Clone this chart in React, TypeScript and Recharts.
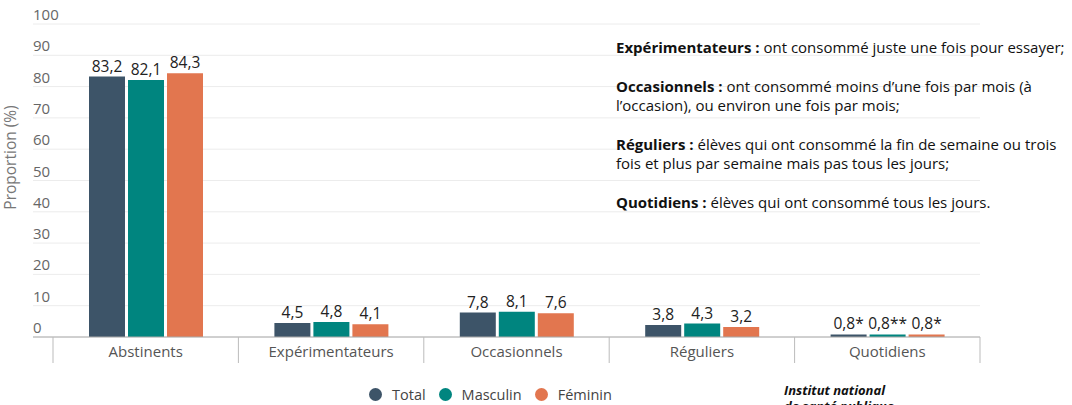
import React from "react";
import { BarChart, Bar, XAxis, YAxis, CartesianGrid, LabelList } from "recharts";

const categories = ["Abstinents", "Expérimentateurs", "Occasionnels", "Réguliers", "Quotidiens"];
const totalValues = [83.2, 4.5, 7.8, 3.8, 0.8];
const masculinValues = [82.1, 4.8, 8.1, 4.3, 0.8];
const femininValues = [84.3, 4.1, 7.6, 3.2, 0.8];
const totalNotes = ["", "", "", "", "*"];
const masculinNotes = ["", "", "", "", "**"];
const femininNotes = ["", "", "", "", "*"];
const yTicks = [0, 10, 20, 30, 40, 50, 60, 70, 80, 90, 100];

const COLORS = { total: "#3d5468", masculin: "#00857f", feminin: "#e2764f" };
const FONT = "'Open Sans', 'Noto Sans', sans-serif";

const data = categories.map((name, i) => ({
  name,
  total: totalValues[i],
  masculin: masculinValues[i],
  feminin: femininValues[i],
  totalLabel: totalValues[i].toString().replace(".", ",") + totalNotes[i],
  masculinLabel: masculinValues[i].toString().replace(".", ",") + masculinNotes[i],
  femininLabel: femininValues[i].toString().replace(".", ",") + femininNotes[i],
}));

const W = 1072;
const H = 405;
const margin = { top: 24, right: 92, left: 0, bottom: 38 };
const Y_AXIS_W = 33;
const PAD_LEFT = 20;
const band = (W - margin.left - margin.right - Y_AXIS_W - PAD_LEFT) / categories.length;

const YTick = (props: any) => {
  const { y, payload } = props;
  return (
    <text x={33} y={y - 9} dy={5} textAnchor="start" fontSize={15} fill="#666" fontFamily={FONT}>
      {payload.value}
    </text>
  );
};

const XTick = (props: any) => {
  const { x, y, payload, index } = props;
  const last = index === categories.length - 1;
  return (
    <g>
      <line x1={x - band / 2} x2={x - band / 2} y1={y} y2={y + 26} stroke="#bbb" />
      {last && <line x1={x + band / 2} x2={x + band / 2} y1={y} y2={y + 26} stroke="#bbb" />}
      <text x={x} y={y + 15} dy={5} textAnchor="middle" fontSize={15} fill="#555" fontFamily={FONT}>
        {payload.value}
      </text>
    </g>
  );
};

const labelStyle = { fontSize: 15.5, fill: "#222", fontFamily: FONT };

const legendItems = [
  { label: "Total", color: COLORS.total },
  { label: "Masculin", color: COLORS.masculin },
  { label: "Féminin", color: COLORS.feminin },
];

export default function App() {
  return (
    <div style={{ position: "absolute", left: 0, top: 0, width: W, height: H, background: "#fff", fontFamily: FONT, overflow: "hidden" }}>
      <BarChart width={W} height={H} data={data} margin={margin} barSize={36} barGap={3}>
        <CartesianGrid vertical={false} stroke="#ececec" />
        <XAxis
          dataKey="name"
          padding={{ left: PAD_LEFT, right: 0 }}
          tickLine={false}
          tickSize={0}
          tickMargin={0}
          height={30}
          axisLine={{ stroke: "#aaa" }}
          tick={<XTick />}
          interval={0}
        />
        <YAxis
          width={Y_AXIS_W}
          domain={[0, 100]}
          ticks={yTicks}
          axisLine={false}
          tickLine={false}
          tick={<YTick />}
          label={{
            value: "Proportion (%)",
            angle: -90,
            position: "insideLeft",
            offset: 10,
            dy: -23,
            style: { fontSize: 15.5, fill: "#777", fontFamily: FONT, textAnchor: "middle" },
          }}
        />
        <Bar dataKey="total" fill={COLORS.total} isAnimationActive={false}>
          <LabelList dataKey="totalLabel" position="top" style={labelStyle} />
        </Bar>
        <Bar dataKey="masculin" fill={COLORS.masculin} isAnimationActive={false}>
          <LabelList dataKey="masculinLabel" position="top" style={labelStyle} />
        </Bar>
        <Bar dataKey="feminin" fill={COLORS.feminin} isAnimationActive={false}>
          <LabelList dataKey="femininLabel" position="top" style={labelStyle} />
        </Bar>
      </BarChart>

      <div style={{ position: "absolute", left: 616, top: 38, fontSize: 15, lineHeight: "19px", color: "#111", whiteSpace: "nowrap" }}>
        <div style={{ marginBottom: 20 }}>
          <b>Expérimentateurs :</b> ont consommé juste une fois pour essayer;
        </div>
        <div style={{ marginBottom: 20 }}>
          <b>Occasionnels :</b> ont consommé moins d’une fois par mois (à
          <br />
          l’occasion), ou environ une fois par mois;
        </div>
        <div style={{ marginBottom: 20 }}>
          <b>Réguliers :</b> élèves qui ont consommé la fin de semaine ou trois
          <br />
          fois et plus par semaine mais pas tous les jours;
        </div>
        <div>
          <b>Quotidiens :</b> élèves qui ont consommé tous les jours.
        </div>
      </div>

      <div style={{ position: "absolute", left: 369, top: 385, display: "flex", alignItems: "center", fontSize: 14.5, color: "#444" }}>
        {legendItems.map((item) => (
          <div key={item.label} style={{ display: "flex", alignItems: "center", marginRight: 13 }}>
            <span style={{ width: 13, height: 13, borderRadius: "50%", background: item.color, display: "inline-block", marginRight: 10 }} />
            <span>{item.label}</span>
          </div>
        ))}
      </div>

      <div style={{ position: "absolute", left: 784, top: 382, fontSize: 13, lineHeight: "16px", fontWeight: 700, fontStyle: "italic", color: "#111" }}>
        Institut national
        <br />
        de santé publique
      </div>
    </div>
  );
}
